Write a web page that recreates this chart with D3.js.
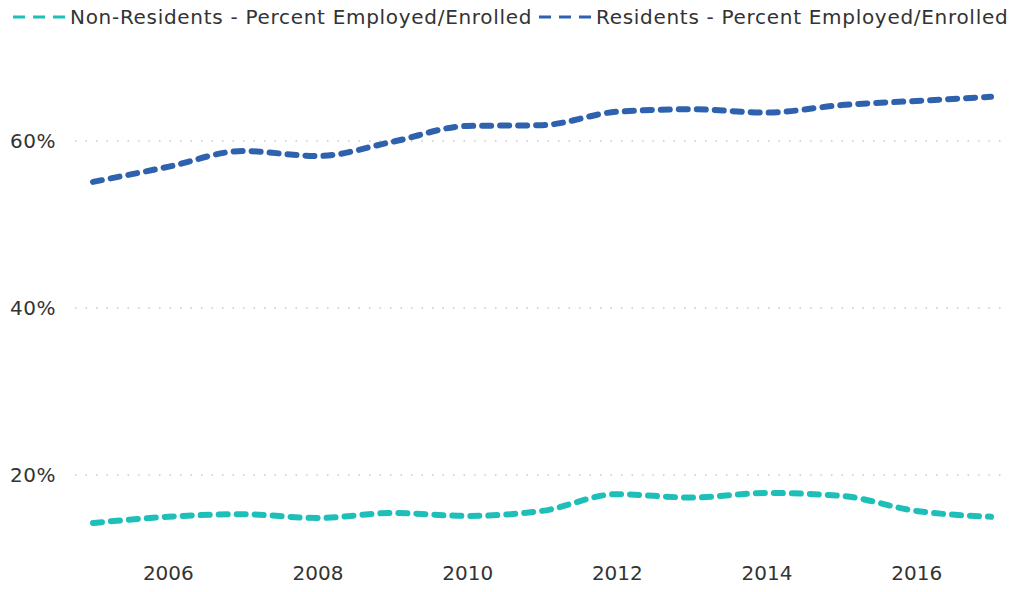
<!DOCTYPE html>
<html><head><meta charset="utf-8">
<script src="https://cdn.jsdelivr.net/npm/d3@7"></script>
<style>body{margin:0;background:#fff}svg{display:block}text{font-family:"DejaVu Sans",Verdana,sans-serif}</style>
</head><body>
<svg id="c" width="1010" height="592"></svg>
<script>
const years = [2005,2006,2007,2008,2009,2010,2011,2012,2013,2014,2015,2016,2017];
const nonResidents = [14.25,15.0,15.3,14.85,15.45,15.1,15.7,17.7,17.3,17.85,17.5,15.7,15.0];
const residents = [55.1,56.9,58.8,58.2,59.9,61.8,61.9,63.5,63.8,63.4,64.3,64.8,65.3];
const xTicks = [2006,2008,2010,2012,2014,2016];
const yTicks = [20,40,60];
const seriesNames = ["Non-Residents - Percent Employed/Enrolled","Residents - Percent Employed/Enrolled"];
const colors = ["#1fbfb9","#2f62ae"];

const svg = d3.select("#c");
const x = d3.scaleLinear().domain([2005,2017]).range([93,991]);
const y = d3.scaleLinear().domain([20,60]).range([475,141]);

// grid
svg.append("g").selectAll("line").data(yTicks).join("line")
  .attr("x1",75).attr("x2",1005).attr("y1",d=>y(d)).attr("y2",d=>y(d))
  .attr("stroke","#c8c8c8").attr("stroke-width",1.5).attr("stroke-dasharray","1.5,9");

// y labels
svg.append("g").selectAll("text").data(yTicks).join("text")
  .attr("x",56).attr("y",d=>y(d)).attr("dy","0.36em").attr("text-anchor","end")
  .attr("font-size",20).attr("letter-spacing",0.5).attr("fill","#333").text(d=>d+"%");

// x axis
const xa = svg.append("g").attr("transform","translate(0,580)")
  .call(d3.axisBottom(x).tickValues(xTicks).tickFormat(d3.format("d")).tickSize(0));
xa.select(".domain").remove();
xa.selectAll("text").attr("font-size",20).attr("fill","#333").attr("font-family","DejaVu Sans, Verdana, sans-serif").attr("y",0).attr("dy","0");

const line = d3.line().x((d,i)=>x(years[i])).y(d=>y(d)).curve(d3.curveMonotoneX);
[nonResidents,residents].forEach((s,k)=>{
  svg.append("path").attr("d",line(s)).attr("fill","none").attr("stroke",colors[k])
    .attr("stroke-width",6).attr("stroke-linecap","round").attr("stroke-dasharray","9,9");
});

// legend
const leg = [{x:12,k:0},{x:538,k:1}];
leg.forEach(l=>{
  svg.append("line").attr("x1",l.x+1).attr("x2",l.x+54).attr("y1",17).attr("y2",17)
    .attr("stroke",colors[l.k]).attr("stroke-width",3).attr("stroke-dasharray","12,8");
  svg.append("text").attr("x",l.x+58).attr("y",17).attr("dy","0.36em").attr("font-size",20)
    .attr("letter-spacing",0.7).attr("fill","#333").text(seriesNames[l.k]);
});
</script>
</body></html>
